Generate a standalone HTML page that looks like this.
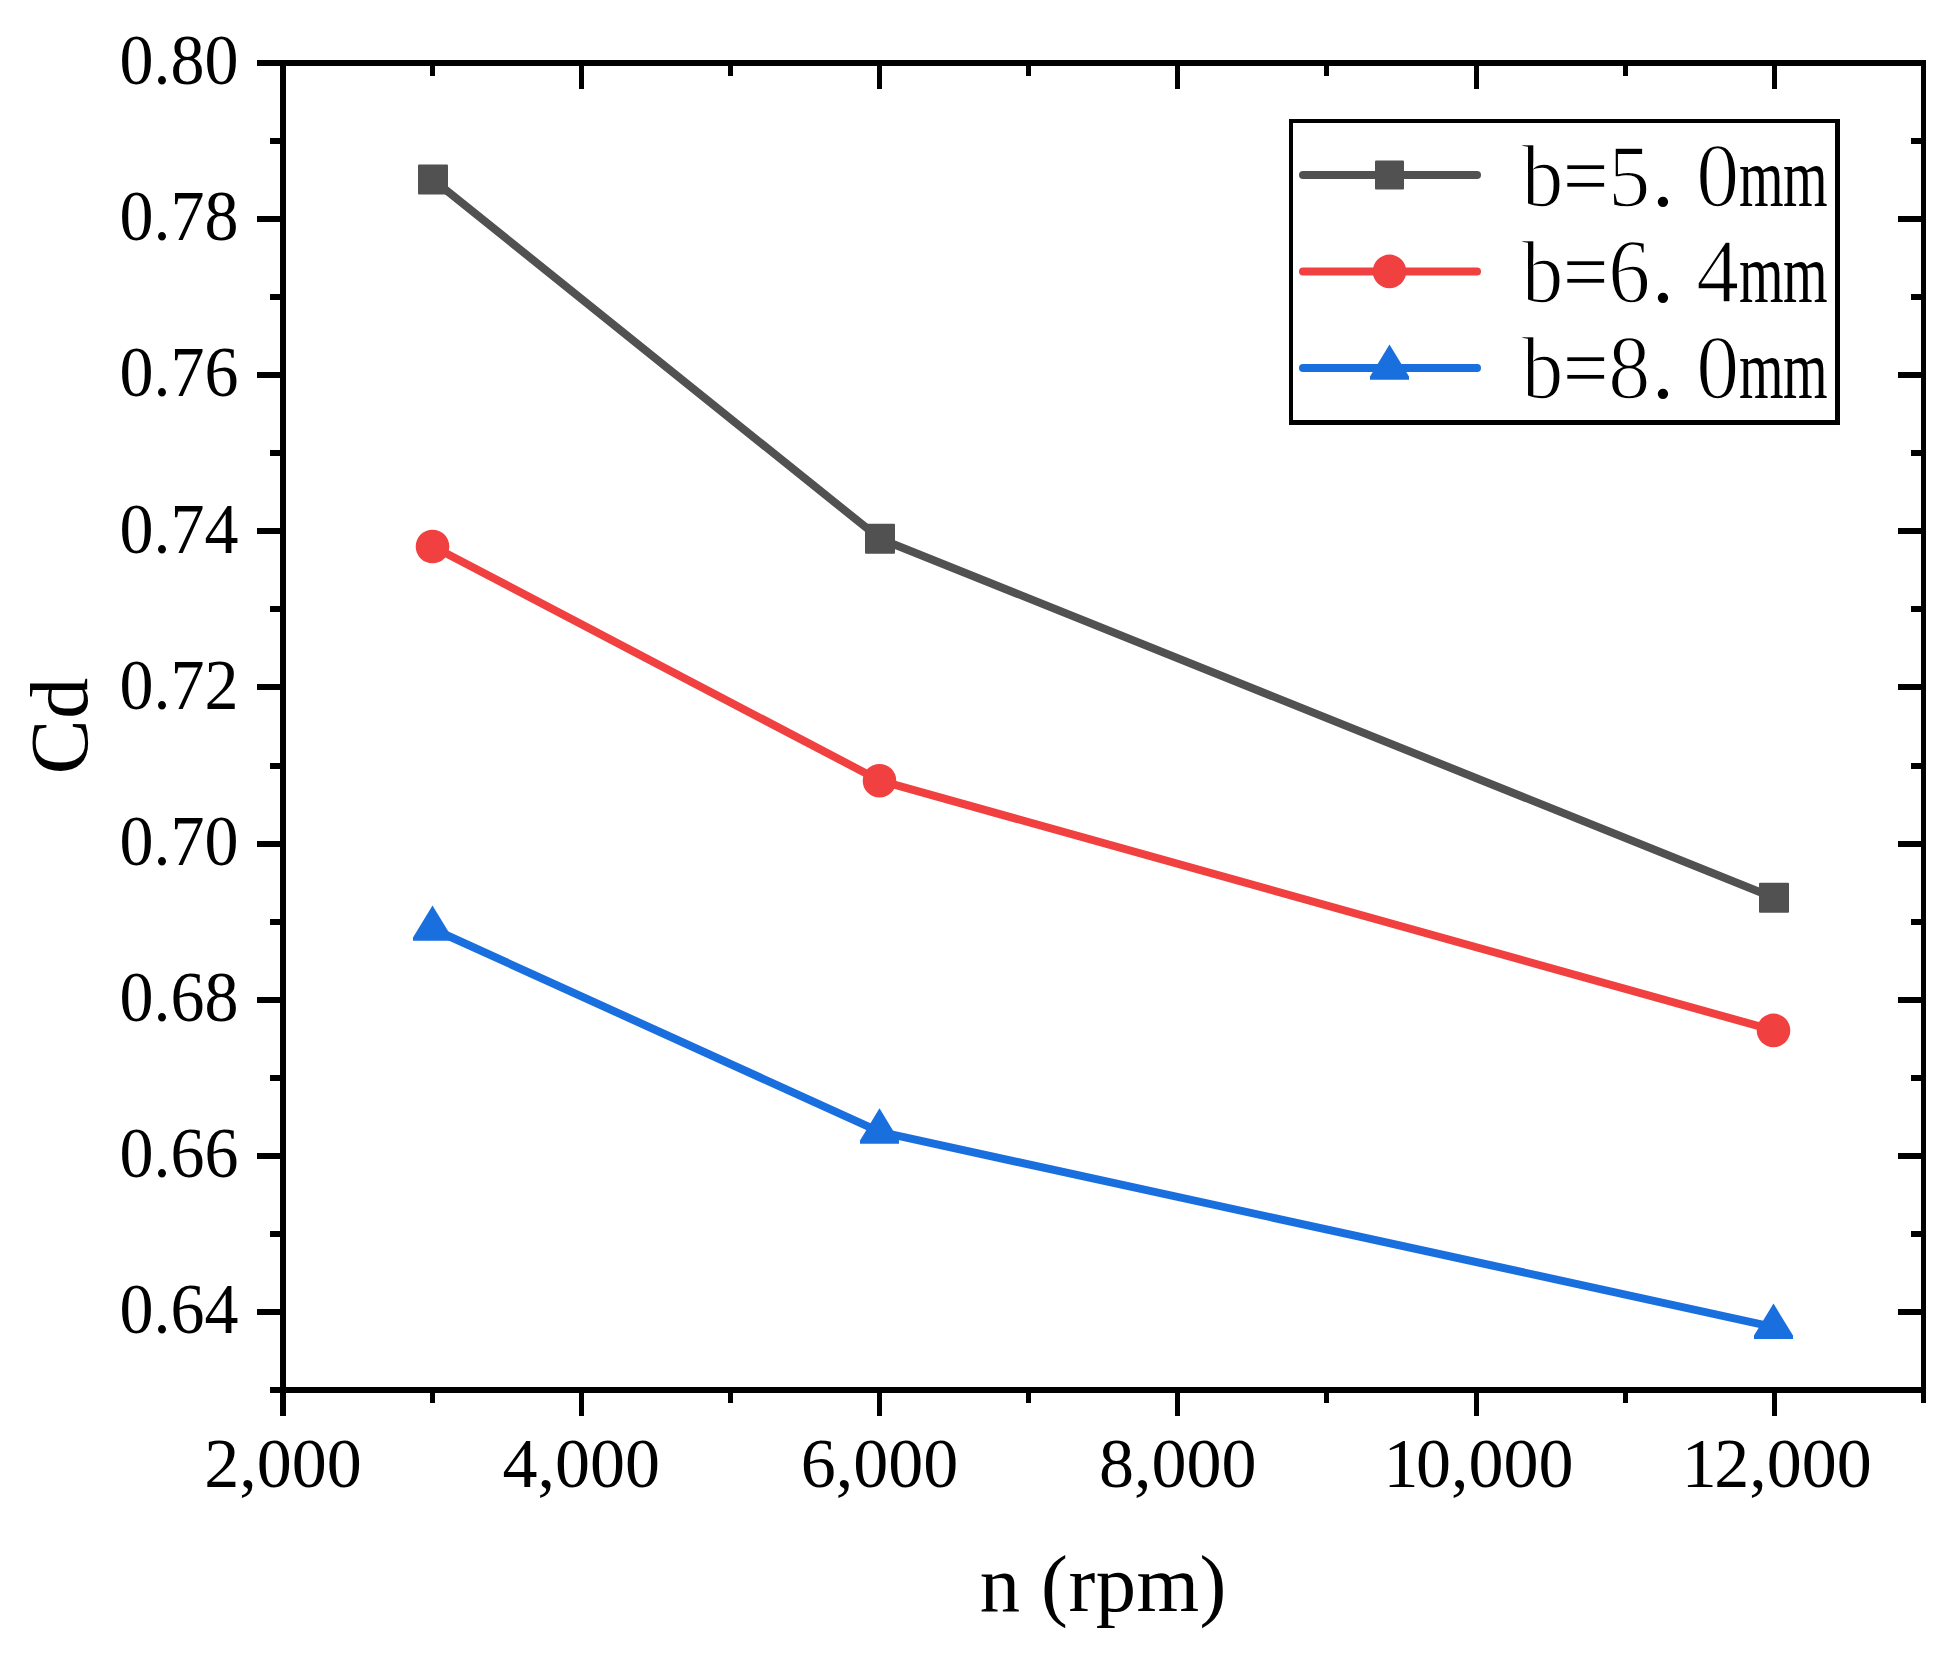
<!DOCTYPE html>
<html lang="en"><head><meta charset="utf-8"><title>Cd vs n (rpm)</title>
<style>html,body{margin:0;padding:0;background:#fff;}svg{display:block;}text{font-family:"Liberation Serif","Noto Serif CJK SC",serif;fill:#000;}</style>
</head><body>
<svg width="1957" height="1660" viewBox="0 0 1957 1660">
<rect x="0" y="0" width="1957" height="1660" fill="#fff"/>
<g fill="#000" shape-rendering="crispEdges">
<rect x="280" y="60" width="1646" height="6"/>
<rect x="280" y="1387" width="1646" height="6"/>
<rect x="280" y="60" width="6" height="1333"/>
<rect x="1921" y="60" width="5" height="1333"/>
<rect x="280" y="1390" width="6" height="26"/>
<rect x="430" y="1390" width="5" height="13"/>
<rect x="430" y="63" width="5" height="13"/>
<rect x="579" y="1390" width="5" height="26"/>
<rect x="579" y="63" width="5" height="26"/>
<rect x="728" y="1390" width="5" height="13"/>
<rect x="728" y="63" width="5" height="13"/>
<rect x="877" y="1390" width="5" height="26"/>
<rect x="877" y="63" width="5" height="26"/>
<rect x="1026" y="1390" width="5" height="13"/>
<rect x="1026" y="63" width="5" height="13"/>
<rect x="1175" y="1390" width="5" height="26"/>
<rect x="1175" y="63" width="5" height="26"/>
<rect x="1324" y="1390" width="5" height="13"/>
<rect x="1324" y="63" width="5" height="13"/>
<rect x="1474" y="1390" width="5" height="26"/>
<rect x="1474" y="63" width="5" height="26"/>
<rect x="1623" y="1390" width="5" height="13"/>
<rect x="1623" y="63" width="5" height="13"/>
<rect x="1772" y="1390" width="5" height="26"/>
<rect x="1772" y="63" width="5" height="26"/>
<rect x="1921" y="1390" width="5" height="13"/>
<rect x="257" y="60" width="26" height="6"/>
<rect x="270" y="138" width="13" height="6"/>
<rect x="1910.5" y="138" width="13" height="6"/>
<rect x="257" y="216" width="26" height="6"/>
<rect x="1897.5" y="216" width="26" height="6"/>
<rect x="270" y="294" width="13" height="6"/>
<rect x="1910.5" y="294" width="13" height="6"/>
<rect x="257" y="372" width="26" height="6"/>
<rect x="1897.5" y="372" width="26" height="6"/>
<rect x="270" y="450" width="13" height="6"/>
<rect x="1910.5" y="450" width="13" height="6"/>
<rect x="257" y="528" width="26" height="6"/>
<rect x="1897.5" y="528" width="26" height="6"/>
<rect x="270" y="606" width="13" height="6"/>
<rect x="1910.5" y="606" width="13" height="6"/>
<rect x="257" y="684" width="26" height="6"/>
<rect x="1897.5" y="684" width="26" height="6"/>
<rect x="270" y="763" width="13" height="6"/>
<rect x="1910.5" y="763" width="13" height="6"/>
<rect x="257" y="841" width="26" height="6"/>
<rect x="1897.5" y="841" width="26" height="6"/>
<rect x="270" y="919" width="13" height="6"/>
<rect x="1910.5" y="919" width="13" height="6"/>
<rect x="257" y="997" width="26" height="6"/>
<rect x="1897.5" y="997" width="26" height="6"/>
<rect x="270" y="1075" width="13" height="6"/>
<rect x="1910.5" y="1075" width="13" height="6"/>
<rect x="257" y="1153" width="26" height="6"/>
<rect x="1897.5" y="1153" width="26" height="6"/>
<rect x="270" y="1231" width="13" height="6"/>
<rect x="1910.5" y="1231" width="13" height="6"/>
<rect x="257" y="1309" width="26" height="6"/>
<rect x="1897.5" y="1309" width="26" height="6"/>
<rect x="270" y="1387" width="13" height="6"/>
</g>
<g font-size="71.2" text-anchor="end">
<text transform="translate(238.6,84.2) scale(0.955,1)">0.80</text>
<text transform="translate(238.6,240.3) scale(0.955,1)">0.78</text>
<text transform="translate(238.6,396.4) scale(0.955,1)">0.76</text>
<text transform="translate(238.6,552.6) scale(0.955,1)">0.74</text>
<text transform="translate(238.6,708.7) scale(0.955,1)">0.72</text>
<text transform="translate(238.6,864.8) scale(0.955,1)">0.70</text>
<text transform="translate(238.6,1020.9) scale(0.955,1)">0.68</text>
<text transform="translate(238.6,1177.0) scale(0.955,1)">0.66</text>
<text transform="translate(238.6,1333.1) scale(0.955,1)">0.64</text>
</g>
<g font-size="70" text-anchor="middle">
<text x="283.0" y="1487">2,000</text>
<text x="581.3" y="1487">4,000</text>
<text x="879.5" y="1487">6,000</text>
<text x="1177.8" y="1487">8,000</text>
<text x="1476.1" y="1487"><tspan dx="2.4">1</tspan><tspan dx="-2.4">0,000</tspan></text>
<text x="1774.4" y="1487"><tspan dx="2.4">1</tspan><tspan dx="-2.4">2,000</tspan></text>
</g>
<text x="1103.3" y="1611" font-size="80.5" letter-spacing="0.5" text-anchor="middle">n (rpm)</text>
<text transform="translate(87,725.6) rotate(-90)" font-size="82" letter-spacing="0.8" text-anchor="middle">Cd</text>
<polyline points="433.0,179.6 880.0,538.7 1774.0,897.7" fill="none" stroke="#515151" stroke-width="8" stroke-linejoin="round"/>
<rect x="418.0" y="164.6" width="30" height="30" rx="1" fill="#515151"/>
<rect x="865.0" y="523.7" width="30" height="30" rx="1" fill="#515151"/>
<rect x="1759.0" y="882.7" width="30" height="30" rx="1" fill="#515151"/>
<polyline points="433.0,546.5 880.0,780.7 1774.0,1030.4" fill="none" stroke="#F14040" stroke-width="8" stroke-linejoin="round"/>
<circle cx="432.5" cy="546.5" r="16.8" fill="#F14040"/>
<circle cx="879.5" cy="780.7" r="16.8" fill="#F14040"/>
<circle cx="1773.5" cy="1030.4" r="16.8" fill="#F14040"/>
<polyline points="433.0,929.0 880.0,1131.9 1774.0,1327.1" fill="none" stroke="#1A6FDF" stroke-width="8" stroke-linejoin="round"/>
<path d="M432.5 905.4 L452.0 937.5 L452.0 940.8 L413.0 940.8 L413.0 937.5 Z" fill="#1A6FDF"/>
<path d="M879.5 1108.3 L899.0 1140.4 L899.0 1143.7 L860.0 1143.7 L860.0 1140.4 Z" fill="#1A6FDF"/>
<path d="M1773.5 1303.5 L1793.0 1335.6 L1793.0 1338.9 L1754.0 1338.9 L1754.0 1335.6 Z" fill="#1A6FDF"/>
<g fill="#000" shape-rendering="crispEdges"><rect x="1289" y="119" width="551" height="306"/><rect x="1293" y="123" width="542" height="297" fill="#fff"/></g>
<line x1="1303" y1="175" x2="1477" y2="175" stroke="#515151" stroke-width="8" stroke-linecap="round"/>
<rect x="1375.0" y="160.5" width="29" height="29" rx="1" fill="#515151"/>
<g font-size="87.6" text-anchor="middle"><text stroke="#fff" stroke-width="1.5" transform="translate(1542.5,206.2) scale(0.95,1.01)">b</text><text stroke="#fff" stroke-width="0.6" transform="translate(1585.6,205.2) scale(0.915,1.0)">=</text><text stroke="#fff" stroke-width="1.5" transform="translate(1629.2,206.2) scale(0.96,1.005)">5</text><text transform="translate(1663,205.7) scale(1.0,1.0)">.</text><text stroke="#fff" stroke-width="1.5" transform="translate(1717.7,206.2) scale(0.98,1.03)">0</text><text transform="translate(1761.3,206.2) scale(0.655,0.96)">m</text><text transform="translate(1805.2,206.2) scale(0.655,0.96)">m</text></g>
<line x1="1303" y1="271.4" x2="1477" y2="271.4" stroke="#F14040" stroke-width="8" stroke-linecap="round"/>
<circle cx="1389.5" cy="271.4" r="16.8" fill="#F14040"/>
<g font-size="87.6" text-anchor="middle"><text stroke="#fff" stroke-width="1.5" transform="translate(1542.5,302.1) scale(0.95,1.01)">b</text><text stroke="#fff" stroke-width="0.6" transform="translate(1585.6,301.1) scale(0.915,1.0)">=</text><text stroke="#fff" stroke-width="1.5" transform="translate(1629.2,302.1) scale(0.96,1.03)">6</text><text transform="translate(1663,301.6) scale(1.0,1.0)">.</text><text stroke="#fff" stroke-width="1.5" transform="translate(1717.7,302.1) scale(0.98,1.03)">4</text><text transform="translate(1761.3,302.1) scale(0.655,0.96)">m</text><text transform="translate(1805.2,302.1) scale(0.655,0.96)">m</text></g>
<line x1="1303" y1="368" x2="1477" y2="368" stroke="#1A6FDF" stroke-width="8" stroke-linecap="round"/>
<path d="M1389.5 344.4 L1409.0 376.5 L1409.0 379.8 L1370.0 379.8 L1370.0 376.5 Z" fill="#1A6FDF"/>
<g font-size="87.6" text-anchor="middle"><text stroke="#fff" stroke-width="1.5" transform="translate(1542.5,398.0) scale(0.95,1.01)">b</text><text stroke="#fff" stroke-width="0.6" transform="translate(1585.6,397.0) scale(0.915,1.0)">=</text><text stroke="#fff" stroke-width="1.5" transform="translate(1629.2,398.0) scale(0.96,1.03)">8</text><text transform="translate(1663,397.5) scale(1.0,1.0)">.</text><text stroke="#fff" stroke-width="1.5" transform="translate(1717.7,398.0) scale(0.98,1.03)">0</text><text transform="translate(1761.3,398.0) scale(0.655,0.96)">m</text><text transform="translate(1805.2,398.0) scale(0.655,0.96)">m</text></g>
</svg>
</body></html>
